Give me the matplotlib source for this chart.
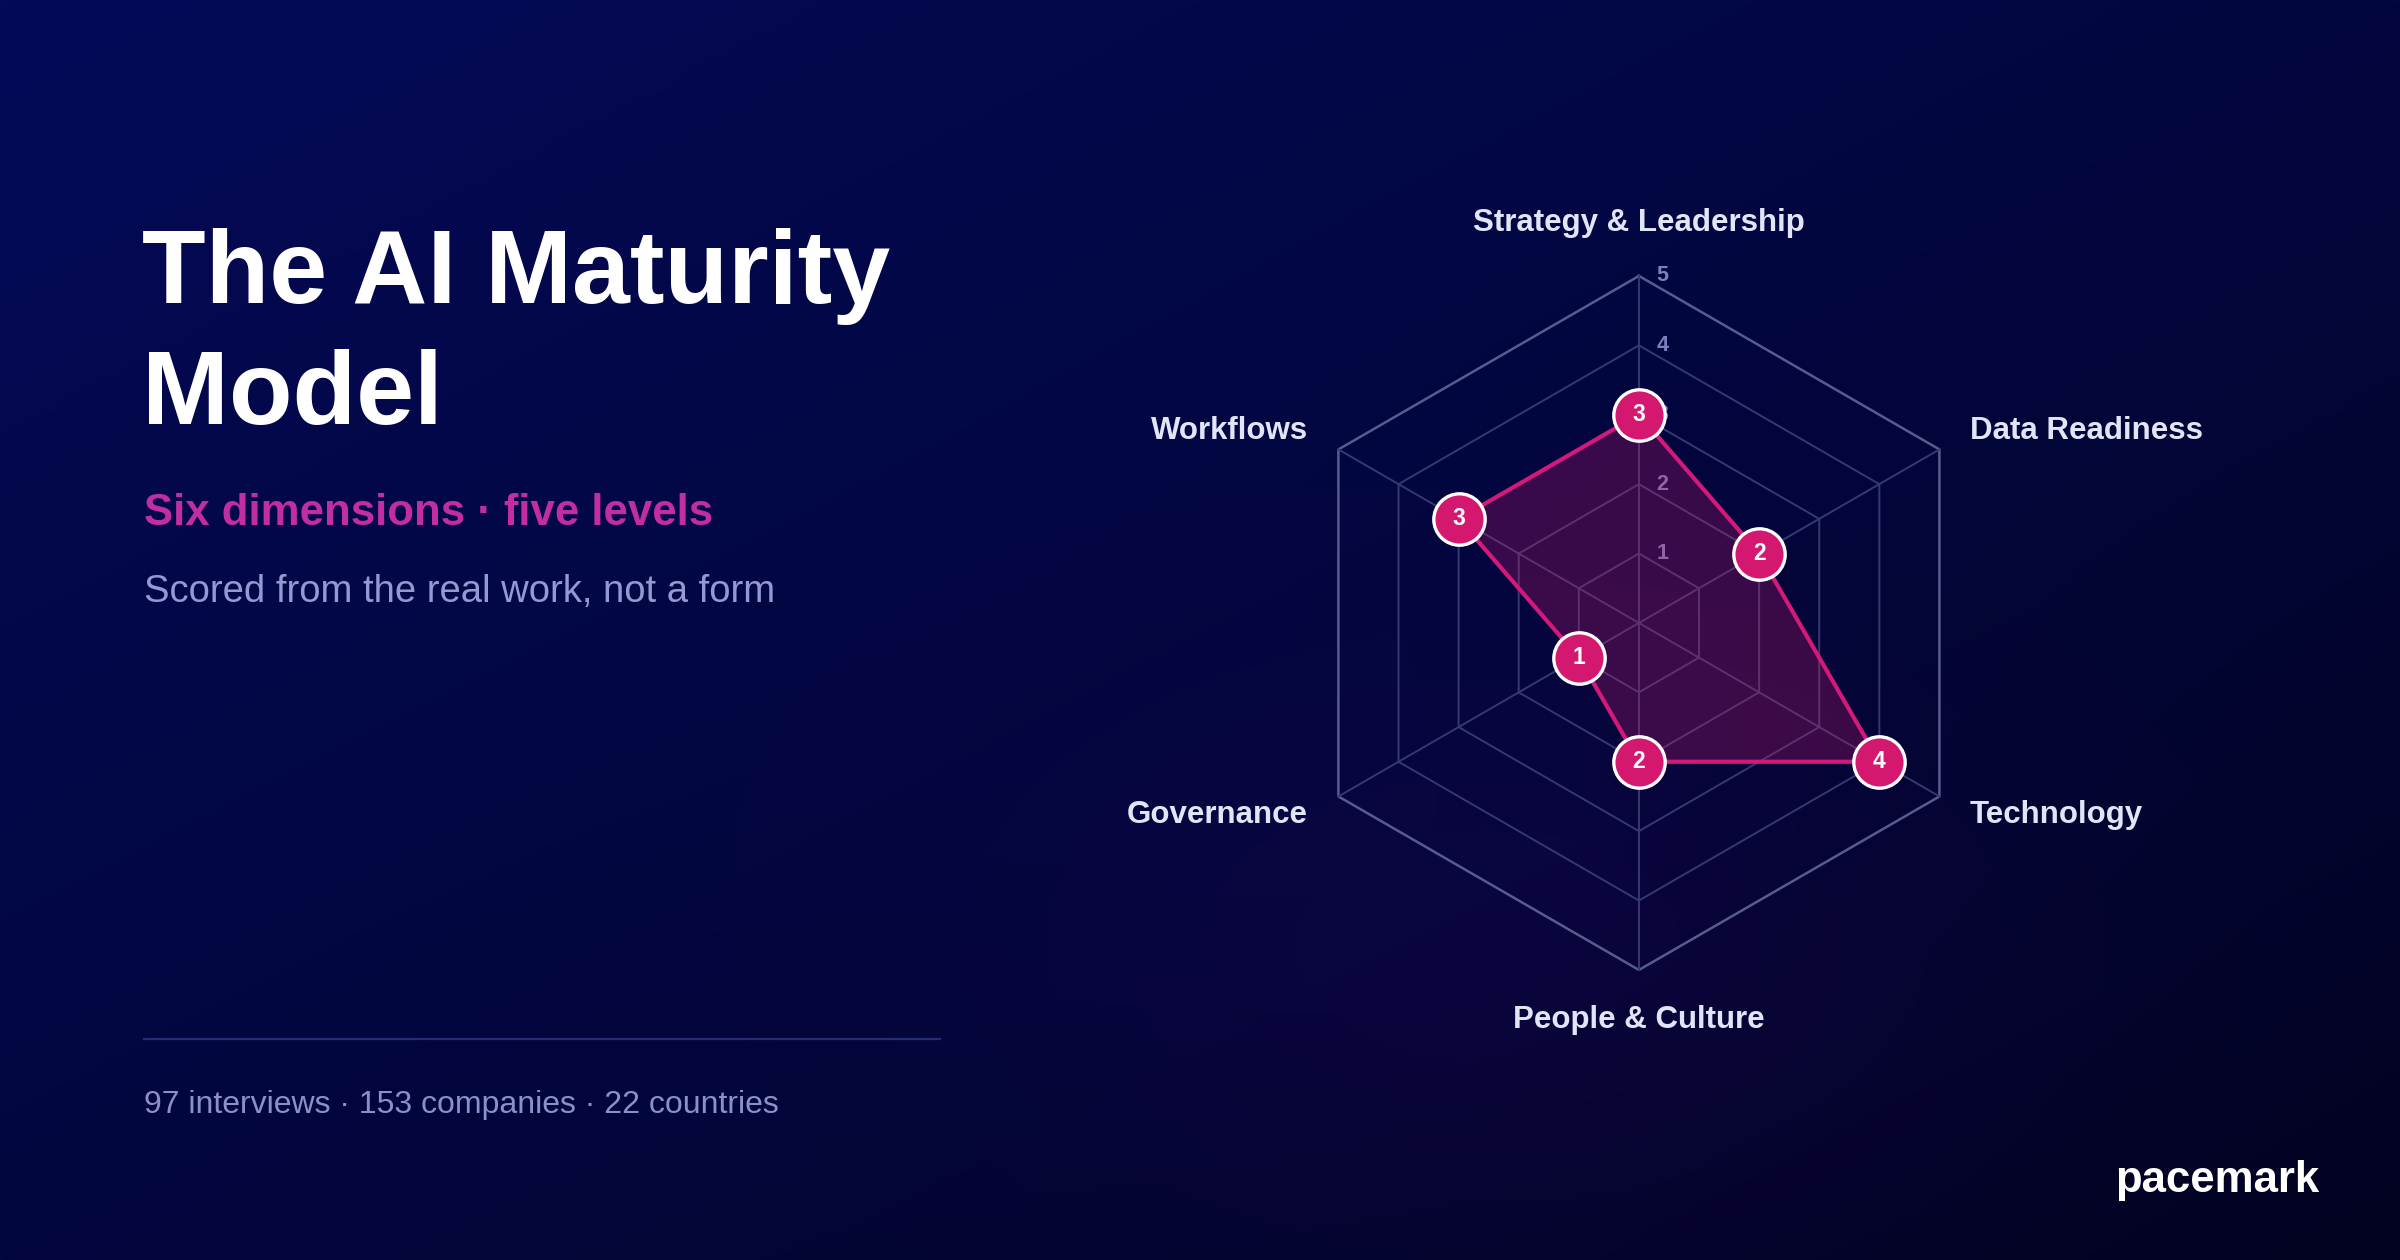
import numpy as np
import matplotlib.pyplot as plt

# data
dimensions = ['Strategy & Leadership', 'Data Readiness', 'Technology',
              'People & Culture', 'Governance', 'Workflows']
scores = [3, 2, 4, 2, 1, 3]
levels = [1, 2, 3, 4, 5]

title_lines = ['The AI Maturity', 'Model']
subtitle = 'Six dimensions \u00b7 five levels'
tagline = 'Scored from the real work, not a form'
footer = '97 interviews \u00b7 153 companies \u00b7 22 countries'
brand = 'pacemark'

plt.rcParams['font.family'] = ['Liberation Sans', 'DejaVu Sans']

W, H, DPI = 2400, 1260, 100
fig = plt.figure(figsize=(W / DPI, H / DPI), dpi=DPI)

# background gradient: top-left -> middle -> bottom-right
bg = fig.add_axes([0, 0, 1, 1], zorder=0)
yy, xx = np.mgrid[0:1:300j, 0:1:560j]
t = np.clip(0.5 * xx + 0.5 * yy, 0, 1)[..., None]
c0 = np.array([4, 10, 88]) / 255
cm = np.array([2, 6, 62]) / 255
c1 = np.array([2, 3, 32]) / 255
img = np.where(t < 0.5, c0 + (cm - c0) * (t / 0.5), cm + (c1 - cm) * ((t - 0.5) / 0.5))
glow = np.exp(-(((xx - 0.62) / 0.22) ** 2 + ((yy - 0.75) / 0.25) ** 2))
img = img + glow[..., None] * np.array([8, 0, 10]) / 255
bg.imshow(np.clip(img, 0, 1), aspect='auto', extent=[0, 1, 0, 1])
bg.set_axis_off()

# left text block
fig.text(0.0592, 0.7595, title_lines[0], color='white', fontsize=75,
         fontweight='bold', va='baseline', ha='left')
fig.text(0.0592, 0.6635, title_lines[1], color='white', fontsize=75,
         fontweight='bold', va='baseline', ha='left')
fig.text(0.060, 0.5833, subtitle, color='#C22CA4', fontsize=31.5,
         fontweight='bold', va='baseline', ha='left')
fig.text(0.060, 0.5226, tagline, color='#9499D2', fontsize=27.5,
         va='baseline', ha='left')
fig.add_artist(plt.Line2D([0.060, 0.3917], [0.1754, 0.1754],
                          color='#262C72', lw=1.6, transform=fig.transFigure))
fig.text(0.060, 0.1167, footer, color='#8A90C8', fontsize=23,
         va='baseline', ha='left')
fig.text(0.9662, 0.054, brand, color='white', fontsize=31.5,
         fontweight='bold', va='baseline', ha='right')

# radar
ax = fig.add_axes([0.5383, 0.2302, 0.28917, 0.5508], projection='polar', zorder=1)
ax.set_theta_zero_location('N')
ax.set_theta_direction(-1)
ax.set_ylim(0, 5)
ax.axis('off')

n = len(dimensions)
angles = np.linspace(0, 2 * np.pi, n, endpoint=False)
closed = np.append(angles, angles[0])

for lvl in levels:
    col = '#575C8E' if lvl == levels[-1] else '#343A70'
    ax.plot(closed, [lvl] * (n + 1), color=col, lw=1.8 if lvl == 5 else 1.4,
            zorder=1, clip_on=False)
for a in angles:
    ax.plot([a, a], [0, levels[-1]], color='#343A70', lw=1.4, zorder=1, clip_on=False)

for lvl in levels:
    ax.annotate(str(lvl), xy=(0, lvl), xytext=(17, 0), textcoords='offset points',
                ha='center', va='center', fontsize=15.5, fontweight='bold',
                color='#7C81BE', zorder=2, annotation_clip=False)

vals = np.append(scores, scores[0])
ax.fill(closed, vals, color='#C8186E', alpha=0.28, zorder=3, lw=0)
ax.plot(closed, vals, color='#D4197A', lw=3, zorder=4, clip_on=False)
ax.plot(angles, scores, 'o', ms=37, mfc='#D4186F', mec='white', mew=2.4,
        zorder=5, clip_on=False)
for a, s in zip(angles, scores):
    ax.text(a, s, str(s), color='white', fontsize=16.5, fontweight='bold',
            ha='center', va='center', zorder=6)

label_offsets = [(0, 38, 'center'), (22, 13, 'left'), (22, -13, 'left'),
                 (0, -36, 'center'), (-22, -13, 'right'), (-22, 13, 'right')]
for a, name, (dx, dy, ha) in zip(angles, dimensions, label_offsets):
    ax.annotate(name, xy=(a, levels[-1]), xytext=(dx, dy), textcoords='offset points',
                ha=ha, va='center', fontsize=22.5, fontweight='bold',
                color='#E2E5F7', annotation_clip=False)

fig.savefig('out.png', dpi=DPI)
